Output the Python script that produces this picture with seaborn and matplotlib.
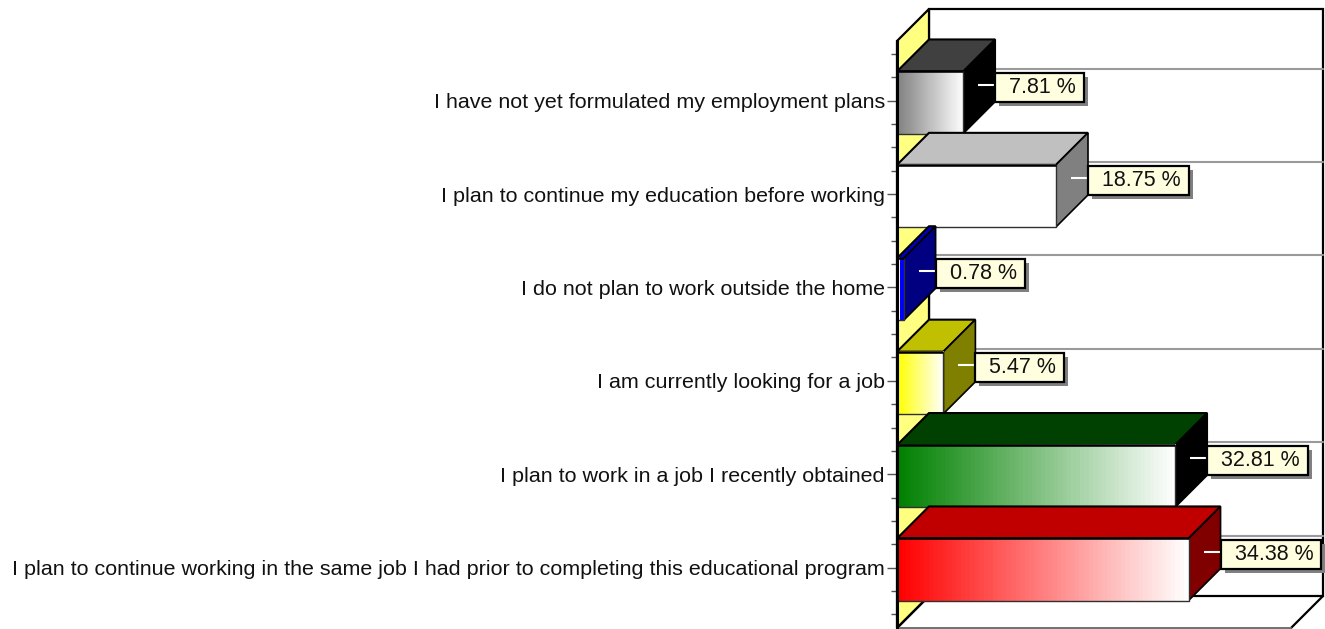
import numpy as np
import pandas as pd
import matplotlib
matplotlib.use("Agg")
import matplotlib.pyplot as plt
from matplotlib.colors import to_rgb
from matplotlib.patches import Polygon, Rectangle
from matplotlib.ticker import FixedLocator
from matplotlib.transforms import IdentityTransform
import seaborn as sns

categories = [
    "I have not yet formulated my employment plans",
    "I plan to continue my education before working",
    "I do not plan to work outside the home",
    "I am currently looking for a job",
    "I plan to work in a job I recently obtained",
    "I plan to continue working in the same job I had prior to completing this educational program",
]
values = [7.81, 18.75, 0.78, 5.47, 32.81, 34.38]
value_labels = ["7.81 %", "18.75 %", "0.78 %", "5.47 %", "32.81 %", "34.38 %"]
front_start = ["#808080", "#FFFFFF", "#FFFFFF", "#FFFF00", "#008000", "#FF0000"]
front_end = ["#FFFFFF", "#FFFFFF", "#0000FF", "#FFFFFF", "#FFFFFF", "#FFFFFF"]
front_steps = [64, 2, 2, 64, 64, 64]
top_colors = ["#404040", "#C0C0C0", "#0000C0", "#C0C000", "#004000", "#C00000"]
side_colors = ["#000000", "#808080", "#000080", "#808000", "#000000", "#800000"]

W, H = 1325, 629
sns.set_theme(style="white")
plt.rcParams["font.family"] = ["Liberation Sans", "DejaVu Sans"]

fig = plt.figure(figsize=(W / 100, H / 100), dpi=100, facecolor="white")
L, R, T, B = 897, 1291, 41, 628
ax = fig.add_axes([L / W, 1 - B / H, (R - L) / W, (B - T) / H])
ax.patch.set_alpha(0)

df = pd.DataFrame({"category": categories, "value": values})
sns.barplot(data=df, y="category", x="value", order=categories, color="white",
            width=0.665, saturation=1, edgecolor="black", linewidth=1,
            ax=ax, zorder=20)

PX_X = 8.48      # pixels per percentage point
PX_Y = 93.4      # pixels per category step
xlim = (0, (R - L) / PX_X)
ylim = ((B - 102.5) / PX_Y, (T - 102.5) / PX_Y)
DX, DY = 32 / PX_X, -32 / PX_Y
TICK_SHIFT = -0.02


def poly(points, **kw):
    ax.add_patch(Polygon(points, closed=True, clip_on=False, **kw))


# walls and floor
x0, x1 = xlim
yb, yt = ylim
poly([(x0 + DX, yt + DY), (x1 + DX, yt + DY), (x1 + DX, yb + DY), (x0 + DX, yb + DY)],
     facecolor="white", edgecolor="black", linewidth=1.6, zorder=1)
poly([(x0, yt), (x0 + DX, yt + DY), (x0 + DX, yb + DY), (x0, yb)],
     facecolor="#FFFF80", edgecolor="black", linewidth=1.6, zorder=2)
ax.plot([x0, x0 + DX], [yb, yb + DY], color="black", lw=1.6, clip_on=False, zorder=3)
ax.plot([x1, x1 + DX], [yb, yb + DY], color="black", lw=1.6, clip_on=False, zorder=3)
ax.plot([x0, x1], [yb, yb], color="#707070", lw=1.4, clip_on=False, zorder=3)

# back-wall grid
for i in range(len(categories)):
    y = i + TICK_SHIFT + DY
    ax.plot([x0 + DX, x1 + DX], [y, y], color="#9a9a9a", lw=1.5, clip_on=False, zorder=4)

# 3D faces from the bars seaborn drew
renderer = fig.canvas.get_renderer()
for i, bar in enumerate(ax.patches[:len(categories)]):
    z = 20 + i * 3
    xa, xb = bar.get_x(), bar.get_x() + bar.get_width()
    ya, yc = bar.get_y(), bar.get_y() + bar.get_height()  # ya = top (inverted axis)
    poly([(xa, ya), (xb, ya), (xb + DX, ya + DY), (xa + DX, ya + DY)],
         facecolor=top_colors[i], edgecolor="black", linewidth=1.5, zorder=z)
    poly([(xb, ya), (xb + DX, ya + DY), (xb + DX, yc + DY), (xb, yc)],
         facecolor=side_colors[i], edgecolor="black", linewidth=1.2, zorder=z)
    c0, c1 = np.array(to_rgb(front_start[i])), np.array(to_rgb(front_end[i]))
    t = np.linspace(0, 1, front_steps[i])[None, :, None]
    ax.imshow(c0 + (c1 - c0) * t, extent=(xa, xb, yc, ya), aspect="auto",
              zorder=z + 1, interpolation="nearest")
    bar.set_facecolor("none")
    bar.set_edgecolor("#303030")
    bar.set_zorder(z + 1.5)
    ax.plot([xa, xb], [ya, ya], color="black", lw=1.8, zorder=z + 1.6, solid_capstyle="butt")

    # leader and value label
    ymid = i + TICK_SHIFT + DY / 2
    ax.plot([xb + 15 / PX_X, xb + 31 / PX_X], [ymid, ymid], color="white", lw=1.5,
            zorder=z + 2, solid_capstyle="butt", clip_on=False)
    txt = ax.annotate(value_labels[i], xy=(xb + DX, ymid), xytext=(14 * 0.72, 0),
                      textcoords="offset points", ha="left", va="center_baseline",
                      fontsize=15.5, color="#111111", zorder=60, annotation_clip=False)

ax.set_xlim(*xlim)
ax.set_ylim(*ylim)

# boxes sized on the text
fig.canvas.draw()
for t in list(ax.texts):
    e = t.get_window_extent(renderer)
    cy = (e.y0 + e.y1) / 2
    left, right = e.x0 - 14, e.x1 + 8
    for off, fc, ec, zo in [(4, "#808080", "none", 50), (0, "#FFFFE0", "black", 55)]:
        r = Rectangle((left + off, cy - 14.5 - off), right - left, 29, facecolor=fc, edgecolor=ec,
                      linewidth=1.6, transform=IdentityTransform(), clip_on=False, zorder=zo)
        ax.add_patch(r)

# axes furniture
ax.set_xticks([])
ax.set_xlabel("")
ax.set_ylabel("")
ax.set_yticks([i + TICK_SHIFT for i in range(len(categories))])
ax.set_yticklabels(categories, fontsize=15.45, color="#111111")
minor = [m for m in np.arange(-0.52, 5.6, 0.25)
         if min(abs(m - (i + TICK_SHIFT)) for i in range(len(categories))) > 0.1]
ax.yaxis.set_minor_locator(FixedLocator(minor))
ax.tick_params(axis="y", which="major", left=True, length=7.5, width=1, color="#555555", pad=1.2)
ax.tick_params(axis="y", which="minor", left=True, length=4.5, width=1, color="#555555")
for s in ["top", "right", "bottom"]:
    ax.spines[s].set_visible(False)
ax.spines["left"].set_linewidth(2.2)
ax.spines["left"].set_color("black")
ax.spines["left"].set_zorder(70)

fig.savefig("out.png", dpi=100, facecolor="white")
